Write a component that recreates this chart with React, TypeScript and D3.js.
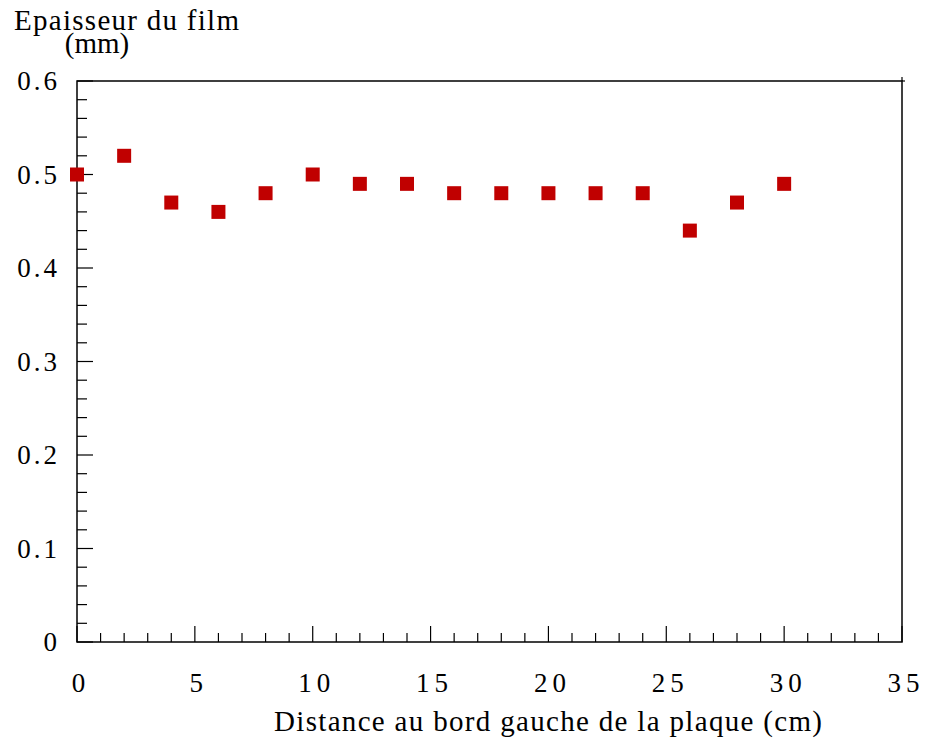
import React from "react";
import * as d3 from "d3";

const xValues = [0, 2, 4, 6, 8, 10, 12, 14, 16, 18, 20, 22, 24, 26, 28, 30];
const yValues = [0.5, 0.52, 0.47, 0.46, 0.48, 0.5, 0.49, 0.49, 0.48, 0.48, 0.48, 0.48, 0.48, 0.44, 0.47, 0.49];
const xTicks = [0, 5, 10, 15, 20, 25, 30, 35];
const yTicks = [0, 0.1, 0.2, 0.3, 0.4, 0.5, 0.6];
const yTitle = ["Epaisseur du film", "(mm)"];
const xTitle = "Distance au bord gauche de la plaque (cm)";

const W = 925, H = 740;
const L = 77, R = 902, T = 81, B = 642;
const FONT = "'Liberation Serif', 'Times New Roman', serif";

export default function App() {
  const x = d3.scaleLinear().domain([0, 35]).range([L, R]);
  const y = d3.scaleLinear().domain([0, 0.6]).range([B, T]);
  const xMinor = d3.range(0, 35.001, 1);
  const yMinor = d3.range(0, 0.6001, 0.02);
  const fmtY = (v: number) => (v === 0 ? "0" : d3.format(".1f")(v));
  const sq = 14;
  return (
    <svg width={W} height={H} style={{ position: "absolute", left: 0, top: 0 }}>
      <rect width={W} height={H} fill="#fff" />
      <rect x={L} y={T} width={R - L} height={B - T} fill="none" stroke="#000" strokeWidth={1.5} />
      <line x1={R} y1={T - 4} x2={R} y2={T} stroke="#000" strokeWidth={1.2} />
      <line x1={R} y1={T} x2={R + 3} y2={T} stroke="#000" strokeWidth={1.2} />
      {xMinor.map((v, i) => {
        const major = Math.abs(v % 5) < 1e-6;
        return (
          <line key={"xt" + i} x1={x(v)} x2={x(v)} y1={B} y2={B - (major ? 16 : 9)} stroke="#000" strokeWidth={1.2} />
        );
      })}
      {yMinor.map((v, i) => {
        const major = i % 5 === 0;
        return (
          <line key={"yt" + i} x1={L} x2={L + (major ? 16 : 10)} y1={y(v)} y2={y(v)} stroke="#000" strokeWidth={1.2} />
        );
      })}
      {xTicks.map((v) => (
        <text key={"xl" + v} x={x(v) + 4} y={692} textAnchor="middle" fontFamily={FONT} fontSize={27} letterSpacing={5}>
          {String(v)}
        </text>
      ))}
      {yTicks.map((v) => (
        <text key={"yl" + v} x={60} y={y(v) + 9} textAnchor="end" fontFamily={FONT} fontSize={27} letterSpacing={3}>
          {fmtY(v)}
        </text>
      ))}
      <text x={14} y={30} textLength={225} lengthAdjust="spacing" fontFamily={FONT} fontSize={29}>{yTitle[0]}</text>
      <text x={97} y={53} textAnchor="middle" fontFamily={FONT} fontSize={29}>{yTitle[1]}</text>
      <text x={274} y={731} textLength={548} lengthAdjust="spacing" fontFamily={FONT} fontSize={29}>{xTitle}</text>
      {xValues.map((v, i) => (
        <rect key={"p" + i} x={x(v) - sq / 2} y={y(yValues[i]) - sq / 2} width={sq} height={sq} fill="#c00000" />
      ))}
    </svg>
  );
}
